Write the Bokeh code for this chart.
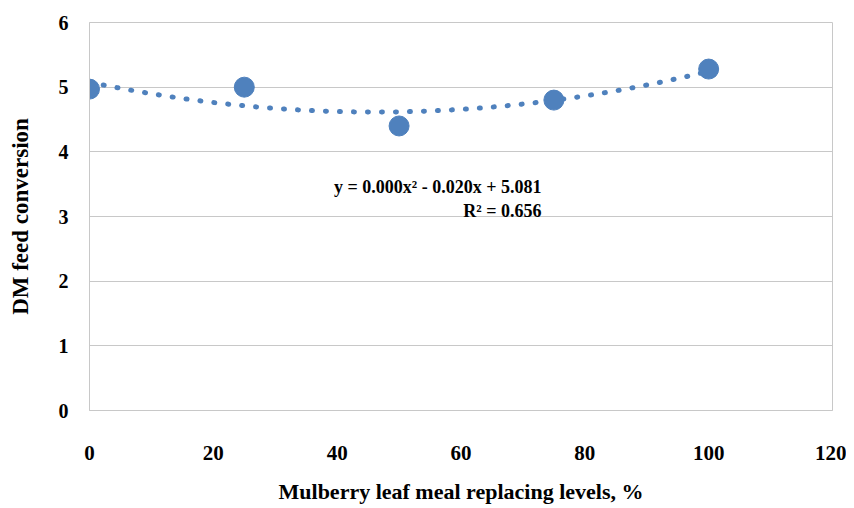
import numpy as np
from bokeh.plotting import figure
from bokeh.models import Range1d, FixedTicker, Label
from bokeh.embed import file_html
from bokeh.resources import INLINE

# data
levels = [0, 25, 50, 75, 100]
feed_conversion = [4.97, 5.0, 4.4, 4.8, 5.28]
x_ticks = [0, 20, 40, 60, 80, 100, 120]
y_ticks = [0, 1, 2, 3, 4, 5, 6]
equation_text = "y = 0.000x² - 0.020x + 5.081"
r2_text = "R² = 0.656"

FONT = "Liberation Serif"
BLUE = "#4F81BD"
GRID = "#c8c8c8"

p = figure(width=846, height=506, output_backend="svg", toolbar_location=None,
           x_range=Range1d(0, 120), y_range=Range1d(0, 6),
           min_border_left=89, min_border_right=14, min_border_top=22, min_border_bottom=95)
p.background_fill_color = "white"
p.border_fill_color = "white"
p.outline_line_color = GRID
p.outline_line_width = 1

p.xgrid.visible = False
p.ygrid.grid_line_color = GRID
p.ygrid.grid_line_width = 1

p.xaxis.ticker = FixedTicker(ticks=x_ticks)
p.yaxis.ticker = FixedTicker(ticks=y_ticks)
for ax in (p.xaxis, p.yaxis):
    ax.axis_line_color = GRID
    ax.major_tick_line_color = None
    ax.minor_tick_line_color = None
    ax.major_label_text_font = FONT
    ax.major_label_text_font_style = "bold"
    ax.major_label_text_color = "black"
    ax.axis_label_text_font = FONT
    ax.axis_label_text_font_style = "bold"
    ax.axis_label_text_color = "black"

p.xaxis.major_label_text_font_size = "21px"
p.yaxis.major_label_text_font_size = "20px"
p.xaxis.axis_label_text_font_size = "22px"
p.yaxis.axis_label_text_font_size = "23px"

p.xaxis.axis_label = "Mulberry leaf meal replacing levels, %"
p.yaxis.axis_label = "DM feed conversion"
p.xaxis.major_label_standoff = 29
p.xaxis.axis_label_standoff = 16
p.yaxis.major_label_standoff = 15
p.yaxis.axis_label_standoff = 23

# polynomial trendline (order 2) fitted from the data
coef = np.polyfit(levels, feed_conversion, 2)
xs = np.linspace(min(levels), max(levels), 200)
ys = np.polyval(coef, xs)
p.line(xs, ys, line_color=BLUE, line_width=5, line_dash="1 13", line_cap="round")

p.scatter(levels, feed_conversion, size=20, fill_color=BLUE, line_color=BLUE)

p.add_layout(Label(x=73, y=3.46, text=equation_text, text_align="right", text_baseline="middle",
                   text_font=FONT, text_font_style="bold", text_font_size="18px", text_color="black"))
p.add_layout(Label(x=73, y=3.08, text=r2_text, text_align="right", text_baseline="middle",
                   text_font=FONT, text_font_style="bold", text_font_size="18px", text_color="black"))

open("out.html", "w").write(file_html(p, INLINE))
